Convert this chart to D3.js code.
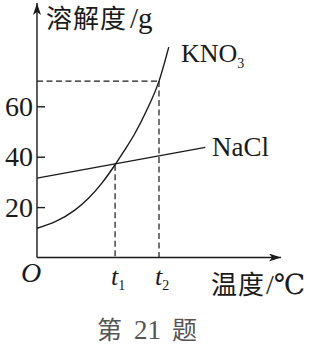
<!DOCTYPE html>
<html>
<head>
<meta charset="utf-8">
<script src="https://cdn.jsdelivr.net/npm/d3@7"></script>
<style>
  html, body { margin: 0; padding: 0; background: #fff; }
  svg { display: block; }
  .serif { font-family: "Liberation Serif", "DejaVu Serif", serif; }
  .cjk { font-family: "Noto Sans CJK SC", sans-serif; }
</style>
</head>
<body>
<div id="chart"></div>
<script>
// temperature in arbitrary units (t axis has no numbers)
const temps = [0, 7.5, 15.5, 21, 26.5, 32, 35.5, 40, 45, 50, 54];
const kno3 = [11.6, 14.2, 18.8, 23.4, 29.4, 36.8, 42, 49, 58.5, 70, 83.5];
const naclTemps = [0, 69];
const nacl = [31.5, 43.7];
const yTicks = [20, 40, 60];
const t1 = 32, t2 = 50;
const crossValue = 36.8;
const dashValue = 70;

const width = 312, height = 345;
const ink = "#1a1a1a";

const svg = d3.select("#chart").append("svg")
  .attr("width", width)
  .attr("height", height);

const x = d3.scaleLinear().domain([0, 100]).range([37, 281]);
const y = d3.scaleLinear().domain([0, 100]).range([257.5, 5.5]);

// arrow heads
const defs = svg.append("defs");
defs.append("marker")
  .attr("id", "arrow")
  .attr("viewBox", "0 0 12 8")
  .attr("refX", 12).attr("refY", 4)
  .attr("markerWidth", 12).attr("markerHeight", 8)
  .attr("markerUnits", "userSpaceOnUse")
  .attr("orient", "auto")
  .append("path")
  .attr("d", "M0,0 L12,4 L0,8 L3,4 Z")
  .attr("fill", ink);

// axes
svg.append("line")
  .attr("x1", x(0)).attr("y1", y(0))
  .attr("x2", x(0)).attr("y2", 3)
  .attr("stroke", ink).attr("stroke-width", 1.4)
  .attr("marker-end", "url(#arrow)");
svg.append("line")
  .attr("x1", x(0)).attr("y1", y(0))
  .attr("x2", x(100)).attr("y2", y(0))
  .attr("stroke", ink).attr("stroke-width", 1.4)
  .attr("marker-end", "url(#arrow)");

const yAxis = svg.append("g")
  .attr("transform", `translate(${x(0)},0)`)
  .call(d3.axisLeft(y).tickValues(yTicks).tickSize(-8).tickPadding(4));
yAxis.select(".domain").remove();
yAxis.selectAll(".tick line").attr("stroke", ink).attr("stroke-width", 1.4);
yAxis.selectAll(".tick text")
  .attr("class", "serif")
  .attr("font-size", 28)
  .attr("fill", ink)
  .attr("dy", "0.33em");

// dashed guides
const dash = svg.append("g")
  .attr("stroke", ink)
  .attr("stroke-width", 1.2)
  .attr("stroke-dasharray", "6,3.5")
  .attr("fill", "none");
dash.append("line")
  .attr("x1", x(0)).attr("y1", y(dashValue))
  .attr("x2", x(t2)).attr("y2", y(dashValue));
dash.append("line")
  .attr("x1", x(t2)).attr("y1", y(dashValue))
  .attr("x2", x(t2)).attr("y2", y(0));
dash.append("line")
  .attr("x1", x(t1)).attr("y1", y(crossValue))
  .attr("x2", x(t1)).attr("y2", y(0));

// curves
const line = d3.line()
  .x(d => x(d[0]))
  .y(d => y(d[1]))
  .curve(d3.curveMonotoneX);

svg.append("path")
  .datum(temps.map((t, i) => [t, kno3[i]]))
  .attr("d", line)
  .attr("fill", "none")
  .attr("stroke", ink)
  .attr("stroke-width", 1.4);

svg.append("path")
  .datum(naclTemps.map((t, i) => [t, nacl[i]]))
  .attr("d", d3.line().x(d => x(d[0])).y(d => y(d[1])))
  .attr("fill", "none")
  .attr("stroke", ink)
  .attr("stroke-width", 1.4);

// labels
const yTitle = svg.append("text")
  .attr("x", 46).attr("y", 28)
  .attr("fill", ink);
yTitle.append("tspan").attr("class", "cjk").attr("font-size", 26)
  .attr("letter-spacing", 1).text("溶解度");
yTitle.append("tspan").attr("class", "serif").attr("font-size", 29).attr("dx", 3).text("/g");

const kLabel = svg.append("text")
  .attr("class", "serif")
  .attr("x", 181).attr("y", 62)
  .attr("fill", ink)
  .attr("font-size", 26);
kLabel.append("tspan").text("KNO");
kLabel.append("tspan").attr("font-size", 14).attr("dy", 6).text("3");

svg.append("text")
  .attr("class", "serif")
  .attr("x", 212).attr("y", 156)
  .attr("fill", ink)
  .attr("font-size", 27)
  .text("NaCl");

svg.append("text")
  .attr("class", "serif")
  .attr("x", 31).attr("y", 282)
  .attr("text-anchor", "middle")
  .attr("font-style", "italic")
  .attr("font-size", 28)
  .attr("fill", ink)
  .text("O");

[[t1, "1"], [t2, "2"]].forEach(([t, s]) => {
  const lbl = svg.append("text")
    .attr("class", "serif")
    .attr("x", x(t) - 4).attr("y", 285)
    .attr("fill", ink)
    .attr("font-size", 26);
  lbl.append("tspan").attr("font-style", "italic").text("t");
  lbl.append("tspan").attr("font-size", 14).attr("dy", 5).text(s);
});

const xTitle = svg.append("text")
  .attr("x", 211).attr("y", 294)
  .attr("fill", ink);
xTitle.append("tspan").attr("class", "cjk").attr("font-size", 26)
  .attr("letter-spacing", 1).text("温度");
xTitle.append("tspan").attr("class", "serif").attr("font-size", 28).attr("dx", 1).text("/℃");

const cap = svg.append("g").attr("fill", "#555").attr("font-size", 25);
cap.append("text").attr("class", "cjk").attr("x", 97).attr("y", 339).text("第");
cap.append("text").attr("class", "serif").attr("x", 134).attr("y", 339)
  .attr("font-size", 27).text("21");
cap.append("text").attr("class", "cjk").attr("x", 172).attr("y", 339).text("题");
</script>
</body>
</html>
